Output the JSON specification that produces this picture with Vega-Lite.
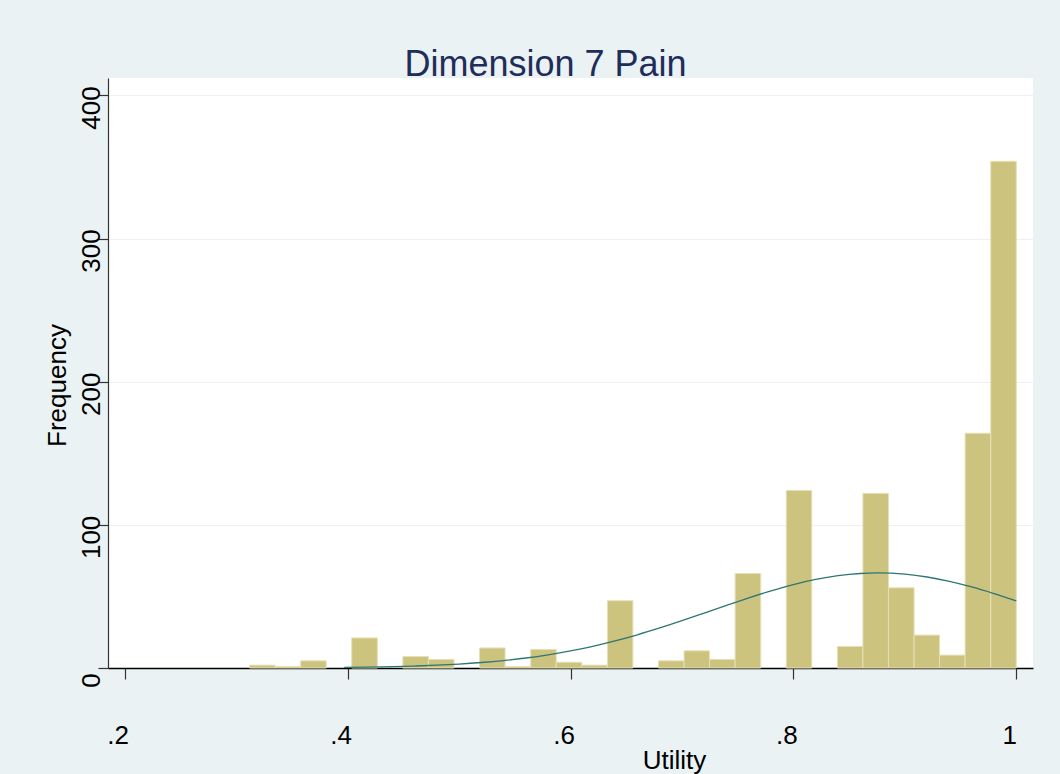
{
  "$schema": "https://vega.github.io/schema/vega-lite/v6.json",
  "autosize": {"type": "none"},
  "padding": {"left": 108, "top": 78, "right": 27, "bottom": 106},
  "width": 925,
  "height": 590,
  "background": "#EAF2F3",
  "view": {"fill": "white", "stroke": null},
  "config": {
    "font": "Liberation Sans",
    "axis": {"labelFont": "Liberation Sans", "titleFont": "Liberation Sans", "labelColor": "#000000", "titleColor": "#000000", "titleFontWeight": "normal", "labelBound": false, "labelFlush": false, "labelOverlap": false}
  },
  "title": {
    "text": "Dimension 7 Pain",
    "fontSize": 36,
    "font": "Liberation Sans",
    "fontWeight": "normal",
    "color": "#1F2D5A",
    "anchor": "middle",
    "frame": "group",
    "baseline": "alphabetic",
    "offset": 0,
    "dx": -25,
    "dy": 34
  },
  "datasets": {
    "bins": [
      {"start": 0.3120, "end": 0.3349, "count": 2},
      {"start": 0.3349, "end": 0.3579, "count": 1},
      {"start": 0.3579, "end": 0.3808, "count": 5},
      {"start": 0.4037, "end": 0.4267, "count": 21},
      {"start": 0.4496, "end": 0.4725, "count": 8},
      {"start": 0.4725, "end": 0.4955, "count": 6},
      {"start": 0.5184, "end": 0.5413, "count": 14},
      {"start": 0.5413, "end": 0.5643, "count": 1},
      {"start": 0.5643, "end": 0.5872, "count": 13},
      {"start": 0.5872, "end": 0.6101, "count": 4},
      {"start": 0.6101, "end": 0.6331, "count": 2},
      {"start": 0.6331, "end": 0.6560, "count": 47},
      {"start": 0.6789, "end": 0.7019, "count": 5},
      {"start": 0.7019, "end": 0.7248, "count": 12},
      {"start": 0.7248, "end": 0.7477, "count": 6},
      {"start": 0.7477, "end": 0.7707, "count": 66},
      {"start": 0.7936, "end": 0.8165, "count": 124},
      {"start": 0.8395, "end": 0.8624, "count": 15},
      {"start": 0.8624, "end": 0.8853, "count": 122},
      {"start": 0.8853, "end": 0.9083, "count": 56},
      {"start": 0.9083, "end": 0.9312, "count": 23},
      {"start": 0.9312, "end": 0.9541, "count": 9},
      {"start": 0.9541, "end": 0.9771, "count": 164},
      {"start": 0.9771, "end": 1.0000, "count": 354}
    ],
    "curve": [
      {"u": 0.397, "f": 0.38}, {"u": 0.42, "f": 0.61}, {"u": 0.44, "f": 0.92}, {"u": 0.46, "f": 1.35},
      {"u": 0.48, "f": 1.94}, {"u": 0.50, "f": 2.75}, {"u": 0.52, "f": 3.83}, {"u": 0.54, "f": 5.22},
      {"u": 0.56, "f": 7.00}, {"u": 0.58, "f": 9.23}, {"u": 0.60, "f": 11.94}, {"u": 0.62, "f": 15.18},
      {"u": 0.64, "f": 18.94}, {"u": 0.66, "f": 23.21}, {"u": 0.68, "f": 27.96}, {"u": 0.70, "f": 33.05},
      {"u": 0.72, "f": 38.39}, {"u": 0.74, "f": 43.78}, {"u": 0.76, "f": 49.04}, {"u": 0.78, "f": 53.95},
      {"u": 0.80, "f": 58.30}, {"u": 0.82, "f": 61.87}, {"u": 0.84, "f": 64.49}, {"u": 0.86, "f": 66.02},
      {"u": 0.876, "f": 66.4}, {"u": 0.90, "f": 65.55}, {"u": 0.92, "f": 63.57}, {"u": 0.94, "f": 60.55},
      {"u": 0.96, "f": 56.64}, {"u": 0.98, "f": 52.04}, {"u": 1.00, "f": 46.97}
    ]
  },
  "layer": [
    {
      "data": {"name": "bins"},
      "mark": {"type": "rect", "fill": "#CCC37F", "stroke": "#E6E0B6", "strokeWidth": 1},
      "encoding": {
        "x": {
          "field": "start", "type": "quantitative",
          "scale": {"domain": [0.185, 1.015], "nice": false, "zero": false},
          "axis": {
            "values": [0.2, 0.4, 0.6, 0.8, 1],
            "labelExpr": "replace(format(datum.value, '.1~f'), '0.', '.')",
            "grid": false,
            "domainColor": "#000000", "domainWidth": 1.5,
            "tickColor": "#333333", "tickSize": 11, "tickWidth": 1.2,
            "labelFontSize": 26, "labelPadding": 43, "labelOffset": -7, "labelBaseline": "top",
            "title": "Utility", "titleFontSize": 26, "titleX": 566, "titleY": 100,
            "titleBaseline": "alphabetic", "titleAlign": "center", "titleAnchor": null
          }
        },
        "x2": {"field": "end"},
        "y": {
          "field": "count", "type": "quantitative",
          "scale": {"domain": [0, 412.2], "nice": false},
          "axis": {
            "values": [0, 100, 200, 300, 400],
            "grid": true, "gridColor": "#EAF2F3", "gridWidth": 1,
            "domainColor": "#333333", "domainWidth": 1.2,
            "tickColor": "#333333", "tickSize": 10, "tickWidth": 1.2,
            "labelFontSize": 26, "labelAngle": -90, "labelAlign": "center", "labelBaseline": "alphabetic",
            "labelPadding": -1, "labelOffset": 12,
            "title": "Frequency", "titleFontSize": 26, "titleAngle": -90, "titleX": -43, "titleY": 307,
            "titleBaseline": "alphabetic", "titleAlign": "center"
          }
        },
        "y2": {"datum": 0}
      }
    },
    {
      "data": {"name": "curve"},
      "mark": {"type": "line", "color": "#2E7673", "strokeWidth": 1.3, "interpolate": "monotone"},
      "encoding": {
        "x": {"field": "u", "type": "quantitative"},
        "y": {"field": "f", "type": "quantitative"}
      }
    }
  ]
}
